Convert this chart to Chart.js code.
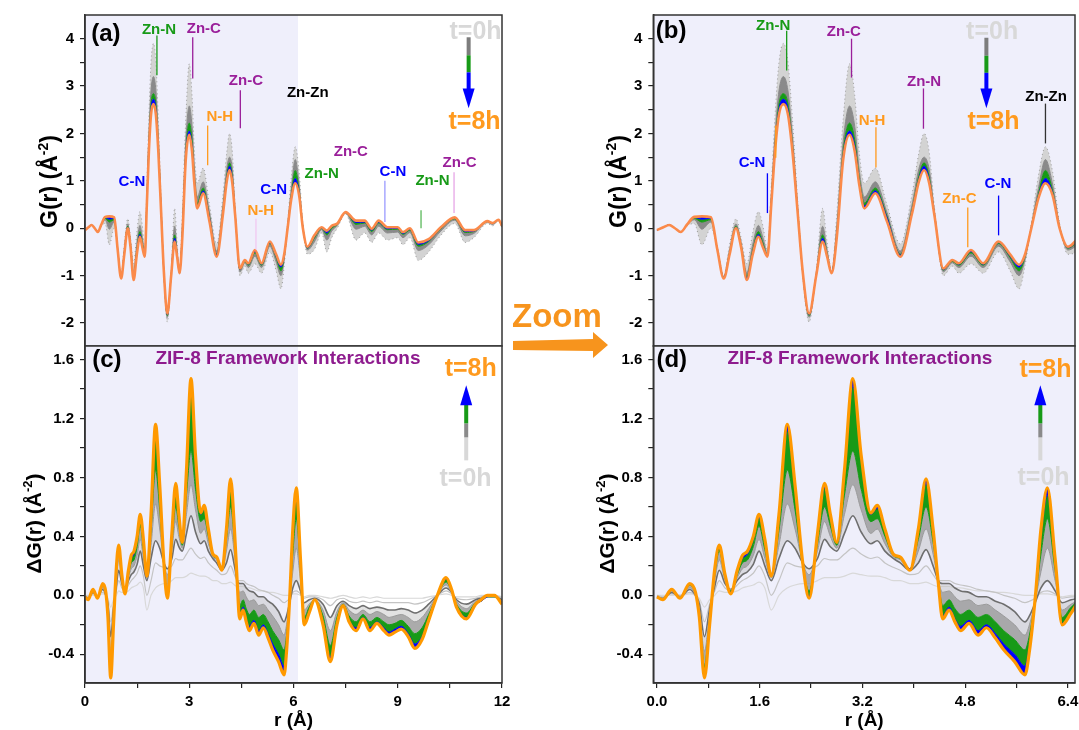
<!DOCTYPE html>
<html>
<head>
<meta charset="utf-8">
<script src="https://cdn.jsdelivr.net/npm/chart.js"></script>
<style>
body{margin:0;background:#fff;width:1079px;height:730px;position:relative;overflow:hidden}
canvas{position:absolute}
#zoomsvg{position:absolute;left:505px;top:280px;z-index:5}
</style>
</head>
<body>
<canvas id="ca" width="520" height="362" style="left:0;top:0"></canvas>
<canvas id="cc" width="520" height="400" style="left:0;top:330px"></canvas>
<canvas id="cb" width="540" height="362" style="left:560px;top:0"></canvas>
<canvas id="cd" width="540" height="400" style="left:560px;top:330px"></canvas>
<svg id="zoomsvg" width="115" height="85">
  <text x="7" y="47" font-family="Liberation Sans, Arial, sans-serif" font-weight="bold" font-size="33" fill="#f7941d">Zoom</text>
  <polygon points="8,61 88,59 88,52 103,65 88,78 88,71 8,70" fill="#f7941d"/>
</svg>
<script>
// ---- G(r) data (a)/(b) ----
const rG = [0,0.1,0.19,0.28,0.37,0.47,0.58,0.7,0.84,0.94,
  1.04,1.13,1.23,1.31,1.4,1.49,1.58,1.65,1.72,1.78,
  1.84,1.9,1.97,2.04,2.11,2.19,2.27,2.37,2.48,2.58,
  2.65,2.72,2.8,2.9,3.0,3.08,3.15,3.23,3.4,3.58,
  3.79,3.97,4.08,4.16,4.24,4.32,4.46,4.6,4.7,4.89,
  5.08,5.32,5.5,5.64,5.73,5.83,5.94,6.05,6.16,6.27,
  6.4,6.6,6.81,6.96,7.1,7.26,7.5,7.8,8.05,8.25,
  8.45,8.7,9.0,9.15,9.35,9.59,9.89,10.24,10.64,10.94,
  11.19,11.58,11.73,11.9,12.0];
// t = 8h (orange)
const G_t8 = [-0.04,0.02,0.07,0.0,-0.08,0.08,0.24,0.25,0.23,-0.45,
  -1.06,-0.56,0.0,-0.4,-1.09,-0.56,-0.18,-0.4,-0.6,0.5,
  1.65,2.4,2.62,2.4,1.62,0.35,-0.92,-1.8,-1.0,-0.28,
  -0.6,-0.95,-0.2,1.45,1.97,1.62,0.92,0.42,0.74,0.15,
  -0.6,0.3,0.99,1.23,0.95,0.28,-0.85,-0.67,-0.74,-0.46,
  -0.74,-0.28,-0.55,-0.77,-0.56,0.0,0.63,0.95,0.7,0.0,
  -0.39,-0.15,0.02,-0.05,0.05,0.1,0.34,0.16,0.16,-0.01,
  0.16,0.02,0.02,-0.08,0.0,-0.3,-0.23,0.02,0.23,-0.04,
  -0.04,0.15,0.11,0.18,0.05];
// late times (blue)
const G_t7 = [-0.04,0.02,0.07,0.0,-0.08,0.08,0.23,0.19,0.21,-0.45,
  -1.05,-0.54,0.02,-0.38,-1.06,-0.51,-0.13,-0.36,-0.59,0.54,
  1.73,2.51,2.72,2.51,1.69,0.38,-0.93,-1.82,-0.99,-0.21,
  -0.57,-0.94,-0.15,1.54,2.05,1.74,0.99,0.47,0.79,0.23,
  -0.57,0.34,1.05,1.31,1.02,0.3,-0.87,-0.68,-0.76,-0.49,
  -0.76,-0.3,-0.59,-0.82,-0.58,0.01,0.68,1.05,0.75,0.01,
  -0.41,-0.18,0.01,-0.1,0.03,0.09,0.34,0.12,0.13,-0.04,
  0.13,-0.01,0.0,-0.11,-0.02,-0.34,-0.26,0.0,0.22,-0.07,
  -0.06,0.15,0.1,0.18,0.05];
// middle times (green)
const G_t5 = [-0.04,0.02,0.07,0.0,-0.08,0.07,0.21,0.13,0.18,-0.44,
  -1.05,-0.52,0.04,-0.36,-1.02,-0.47,-0.07,-0.31,-0.57,0.58,
  1.8,2.62,2.84,2.62,1.76,0.4,-0.94,-1.84,-0.98,-0.14,
  -0.54,-0.94,-0.1,1.62,2.22,1.86,1.06,0.53,0.85,0.26,
  -0.55,0.38,1.11,1.38,1.08,0.31,-0.88,-0.7,-0.78,-0.52,
  -0.78,-0.32,-0.62,-0.9,-0.61,0.02,0.72,1.22,0.8,0.02,
  -0.42,-0.21,0.0,-0.14,0.0,0.08,0.33,0.08,0.11,-0.07,
  0.11,-0.03,-0.02,-0.13,-0.04,-0.38,-0.28,-0.01,0.2,-0.09,
  -0.07,0.14,0.1,0.17,0.04];
// early times (dark grey)
const G_t2 = [-0.04,0.02,0.07,0.0,-0.08,0.07,0.18,-0.02,0.13,-0.43,
  -1.03,-0.47,0.09,-0.31,-0.94,-0.35,0.06,-0.2,-0.53,0.68,
  1.99,2.9,3.2,2.9,1.93,0.46,-0.96,-1.88,-0.96,0.04,
  -0.47,-0.93,0.03,1.83,2.58,2.15,1.23,0.66,0.98,0.34,
  -0.48,0.48,1.26,1.5,1.24,0.36,-0.92,-0.73,-0.83,-0.59,
  -0.83,-0.38,-0.71,-1.0,-0.67,0.05,0.84,1.45,0.93,0.05,
  -0.46,-0.29,-0.03,-0.25,-0.06,0.06,0.32,-0.02,0.04,-0.14,
  0.04,-0.1,-0.08,-0.2,-0.09,-0.47,-0.35,-0.06,0.17,-0.16,
  -0.11,0.13,0.08,0.17,0.03];
// t = 0h (light grey edge)
const G_t0 = [-0.04,0.02,0.07,0.0,-0.08,0.05,0.1,-0.35,0.0,-0.4,
  -1.0,-0.35,0.2,-0.2,-0.75,-0.1,0.35,0.05,-0.45,0.9,
  2.4,3.5,3.9,3.5,2.3,0.6,-1.0,-1.98,-0.9,0.42,
  -0.3,-0.9,0.3,2.3,3.47,2.8,1.6,0.95,1.27,0.5,
  -0.33,0.7,1.6,2.0,1.6,0.45,-1.0,-0.8,-0.95,-0.75,
  -0.95,-0.5,-0.9,-1.28,-0.8,0.1,1.1,1.72,1.2,0.1,
  -0.55,-0.45,-0.1,-0.5,-0.2,0.0,0.3,-0.25,-0.1,-0.3,
  -0.1,-0.25,-0.2,-0.35,-0.2,-0.68,-0.5,-0.15,0.1,-0.3,
  -0.2,0.1,0.05,0.15,0.0];

// ---- dG(r) data (c)/(d) ----
const rD = [0,0.09,0.23,0.36,0.51,0.6,0.66,0.74,0.82,0.9,
  0.97,1.06,1.15,1.25,1.33,1.41,1.5,1.59,1.68,1.78,
  1.9,2.03,2.15,2.27,2.37,2.5,2.61,2.7,2.8,2.92,
  3.05,3.18,3.33,3.43,3.55,3.68,3.79,3.94,4.07,4.19,
  4.3,4.38,4.45,4.55,4.64,4.73,4.86,5.0,5.13,5.27,
  5.4,5.57,5.73,5.8,5.89,5.98,6.08,6.2,6.31,6.45,
  6.61,6.85,7.06,7.25,7.43,7.6,7.8,8.0,8.2,8.4,
  8.6,8.75,8.92,9.1,9.3,9.49,9.7,9.89,10.14,10.39,
  10.55,10.69,10.98,11.24,11.4,11.58,11.78,12.0];
const dG_t8 = [-0.01,-0.03,0.04,-0.02,0.08,0.02,-0.15,-0.56,-0.2,0.18,
  0.34,0.14,0.01,0.17,0.27,0.3,0.4,0.55,0.38,0.13,
  0.55,1.16,0.75,0.22,-0.02,0.42,0.76,0.55,0.36,0.85,
  1.47,0.95,0.56,0.61,0.45,0.28,0.26,0.17,0.45,0.79,
  0.45,0.09,-0.16,-0.1,-0.18,-0.24,-0.19,-0.27,-0.22,-0.29,
  -0.37,-0.45,-0.54,-0.38,-0.02,0.45,0.73,0.25,-0.2,-0.12,
  -0.03,-0.2,-0.45,-0.2,-0.07,-0.18,-0.24,-0.16,-0.24,-0.19,
  -0.24,-0.27,-0.25,-0.23,-0.28,-0.36,-0.3,-0.17,0.0,0.12,
  0.04,-0.08,-0.16,-0.06,-0.03,0.0,0.0,-0.06];
const dG_t7 = [-0.01,-0.03,0.04,-0.02,0.08,0.02,-0.14,-0.54,-0.19,0.17,
  0.33,0.14,0.02,0.16,0.25,0.28,0.38,0.53,0.36,0.14,
  0.52,1.12,0.72,0.22,-0.01,0.4,0.73,0.53,0.36,0.82,
  1.42,0.92,0.55,0.59,0.44,0.28,0.26,0.18,0.43,0.76,
  0.43,0.09,-0.14,-0.08,-0.16,-0.21,-0.17,-0.24,-0.2,-0.26,
  -0.33,-0.4,-0.48,-0.34,-0.02,0.4,0.68,0.23,-0.19,-0.11,
  -0.03,-0.18,-0.42,-0.19,-0.07,-0.17,-0.22,-0.15,-0.22,-0.18,
  -0.22,-0.25,-0.23,-0.21,-0.26,-0.33,-0.28,-0.16,0.0,0.11,
  0.04,-0.07,-0.15,-0.06,-0.04,-0.01,0.0,-0.06];
const dG_t6 = [-0.01,-0.03,0.04,-0.02,0.07,0.01,-0.12,-0.48,-0.16,0.14,
  0.3,0.12,0.03,0.14,0.22,0.24,0.33,0.47,0.31,0.13,
  0.44,0.85,0.58,0.2,0.03,0.35,0.6,0.47,0.34,0.68,
  0.98,0.72,0.5,0.52,0.4,0.27,0.25,0.18,0.38,0.6,
  0.36,0.1,-0.07,-0.03,-0.09,-0.13,-0.1,-0.15,-0.13,-0.18,
  -0.24,-0.3,-0.37,-0.27,-0.03,0.28,0.52,0.17,-0.15,-0.08,
  -0.03,-0.14,-0.34,-0.15,-0.06,-0.14,-0.18,-0.13,-0.18,-0.15,
  -0.18,-0.2,-0.19,-0.17,-0.21,-0.26,-0.22,-0.13,0.0,0.09,
  0.03,-0.06,-0.12,-0.05,-0.04,-0.01,-0.01,-0.05];
const dG_t4 = [-0.01,-0.02,0.03,-0.01,0.05,0.0,-0.09,-0.38,-0.12,0.1,
  0.24,0.1,0.04,0.12,0.18,0.2,0.27,0.38,0.25,0.12,
  0.34,0.62,0.45,0.22,0.14,0.3,0.5,0.4,0.32,0.55,
  0.75,0.58,0.42,0.45,0.35,0.26,0.24,0.17,0.3,0.45,
  0.28,0.1,0.02,0.03,-0.01,-0.04,-0.03,-0.07,-0.06,-0.1,
  -0.14,-0.2,-0.27,-0.2,-0.04,0.16,0.32,0.1,-0.1,-0.06,
  -0.03,-0.1,-0.24,-0.11,-0.05,-0.1,-0.13,-0.1,-0.13,-0.11,
  -0.13,-0.15,-0.14,-0.13,-0.15,-0.18,-0.15,-0.09,0.0,0.07,
  0.02,-0.04,-0.09,-0.04,-0.03,-0.01,-0.01,-0.04];
const dG_t3 = [-0.01,-0.02,0.02,-0.01,0.04,0.0,-0.06,-0.28,-0.09,0.06,
  0.17,0.08,0.04,0.1,0.14,0.16,0.21,0.3,0.2,0.1,
  0.25,0.37,0.32,0.22,0.18,0.25,0.38,0.33,0.3,0.42,
  0.54,0.43,0.35,0.37,0.3,0.25,0.22,0.17,0.22,0.31,
  0.2,0.1,0.08,0.08,0.05,0.03,0.02,-0.01,-0.01,-0.04,
  -0.06,-0.11,-0.18,-0.14,-0.05,0.05,0.1,0.03,-0.05,-0.03,
  -0.02,-0.06,-0.15,-0.07,-0.04,-0.07,-0.09,-0.07,-0.09,-0.08,
  -0.09,-0.1,-0.1,-0.09,-0.1,-0.12,-0.1,-0.06,0.0,0.05,
  0.02,-0.03,-0.06,-0.03,-0.02,-0.01,-0.01,-0.03];
const dG_t2 = [0,-0.01,0.01,0,0.02,0,-0.04,-0.18,-0.06,0.03,
  0.1,0.05,0.03,0.07,0.1,0.12,0.15,0.2,0.13,0.0,
  0.1,0.22,0.2,0.19,0.18,0.2,0.25,0.24,0.24,0.28,
  0.32,0.28,0.25,0.26,0.22,0.19,0.17,0.14,0.15,0.2,
  0.14,0.1,0.1,0.1,0.08,0.07,0.06,0.04,0.03,0.02,
  0.0,-0.02,-0.05,-0.04,-0.02,0.02,0.03,0.01,-0.02,-0.01,
  -0.01,-0.03,-0.07,-0.03,-0.02,-0.04,-0.05,-0.04,-0.05,-0.04,
  -0.05,-0.05,-0.05,-0.05,-0.05,-0.06,-0.05,-0.03,0.0,0.03,
  0.01,-0.02,-0.03,-0.02,-0.01,0.0,0.0,-0.02];
const dG_t1 = [0,0,0,0,0.01,0,-0.02,-0.08,-0.03,0,
  0.03,0.02,0.02,0.03,0.05,0.06,0.07,0.09,0.05,-0.1,
  0.0,0.05,0.07,0.08,0.08,0.1,0.12,0.12,0.12,0.13,
  0.15,0.14,0.13,0.13,0.12,0.1,0.1,0.08,0.08,0.09,
  0.07,0.06,0.06,0.06,0.05,0.05,0.04,0.03,0.03,0.02,
  0.02,0.01,0.0,0.0,0.0,0.01,0.01,0.0,-0.01,0.0,
  0,-0.01,-0.02,-0.01,0,-0.01,-0.02,-0.01,-0.02,-0.01,
  -0.02,-0.02,-0.02,-0.02,-0.02,-0.02,-0.02,-0.01,0,0.01,
  0,-0.01,-0.01,-0.01,0,0,0,-0.01];

// ---- tick labels ----
const gTicks = [-2,-1.5,-1,-0.5,0,0.5,1,1.5,2,2.5,3,3.5,4];
const dTicks = [-0.4,-0.2,0,0.2,0.4,0.6,0.8,1.0,1.2,1.4,1.6];
const xTicksFull = [0,1.5,3,4.5,6,7.5,9,10.5,12];
const xTicksZoom = [0,0.8,1.6,2.4,3.2,4.0,4.8,5.6,6.4];

const FAM = '"Liberation Sans", Arial, Helvetica, sans-serif';
const LAV = '#efeffb';
const GREEN = '#179a17', BLUE = '#0000ff', PURPLE = '#9a1f9a', ORANGE = '#ff9a1e', LGRAY = '#d8d8d8';
Chart.defaults.font.family = FAM;

function yTitle(ctx, cx, cy, pre, size) {
  ctx.save();
  ctx.translate(cx, cy);
  ctx.rotate(-Math.PI / 2);
  const f1 = 'bold ' + size + 'px ' + FAM, f2 = 'bold ' + Math.round(size * 0.62) + 'px ' + FAM;
  ctx.font = f1;
  const w1 = ctx.measureText(pre + ' (Å').width, w3 = ctx.measureText(')').width;
  ctx.font = f2;
  const w2 = ctx.measureText('-2').width;
  let x = -(w1 + w2 + w3) / 2;
  const base = size * 0.36;
  ctx.fillStyle = '#000'; ctx.textAlign = 'left'; ctx.textBaseline = 'alphabetic';
  ctx.font = f1; ctx.fillText(pre + ' (Å', x, base); x += w1;
  ctx.font = f2; ctx.fillText('-2', x, base - size * 0.42); x += w2;
  ctx.font = f1; ctx.fillText(')', x, base);
  ctx.restore();
}

const panelPlugin = {
  id: 'panel',
  beforeDraw(chart, args, o) {
    const {ctx, chartArea: a, scales: {x}} = chart;
    ctx.save();
    ctx.fillStyle = '#fff';
    ctx.fillRect(a.left, a.top, a.width, a.height);
    const xe = o.shadeTo == null ? a.right : x.getPixelForValue(o.shadeTo);
    ctx.fillStyle = LAV;
    ctx.fillRect(a.left, a.top, xe - a.left, a.height);
    ctx.restore();
  },
  afterDraw(chart, args, o) {
    const {ctx, chartArea: a, scales: {x, y}} = chart;
    const px = v => x.getPixelForValue(v), py = v => y.getPixelForValue(v);
    ctx.save();
    ctx.strokeStyle = '#333'; ctx.lineWidth = 1.5;
    ctx.strokeRect(a.left, a.top, a.width, a.height);
    ctx.textAlign = 'center'; ctx.textBaseline = 'middle';
    (o.anns || []).forEach(n => {
      if (n.l) {
        ctx.strokeStyle = n.lc || n.c; ctx.lineWidth = 1.3;
        ctx.beginPath(); ctx.moveTo(px(n.l[0]), py(n.l[1])); ctx.lineTo(px(n.l[0]), py(n.l[2])); ctx.stroke();
      }
      if (n.t) {
        ctx.fillStyle = n.c; ctx.font = 'bold ' + (n.s || 15) + 'px ' + FAM;
        ctx.fillText(n.t, px(n.x), py(n.y));
      }
    });
    if (o.arrow) {
      const ar = o.arrow, ax = px(ar.x);
      ar.segs.forEach(s => {
        const a1 = py(s[0]), a2 = py(s[1]);
        ctx.fillStyle = s[2];
        ctx.fillRect(ax - 2, Math.min(a1, a2), 4, Math.abs(a2 - a1));
      });
      const hb = py(ar.head[0]), ht = py(ar.head[1]);
      ctx.fillStyle = ar.head[2];
      ctx.beginPath(); ctx.moveTo(ax - 6, hb); ctx.lineTo(ax + 6, hb); ctx.lineTo(ax, ht); ctx.closePath(); ctx.fill();
    }
    if (o.ytitle) yTitle(ctx, a.left - o.ytitle.dx, (a.top + a.bottom) / 2 + o.ytitle.dy, o.ytitle.text, o.ytitle.size);
    if (o.xtitle) {
      ctx.fillStyle = '#000'; ctx.font = 'bold 19px ' + FAM;
      ctx.fillText('r (Å)', (a.left + a.right) / 2, a.bottom + o.xtitle);
    }
    ctx.restore();
  }
};

const pts = (rs, ys) => rs.map((v, i) => ({x: v, y: ys[i]}));
function line(data, color, width, fill, fillColor, extra) {
  return Object.assign({data: data, borderColor: color, borderWidth: width,
    fill: fill || false, backgroundColor: fillColor || 'rgba(0,0,0,0)',
    pointRadius: 0, cubicInterpolationMode: 'monotone'}, extra || {});
}
function gSets() {
  return [
    line(pts(rG, G_t8), '#fb8a4a', 2.6),
    line(pts(rG, G_t7), BLUE, 1, '-1', BLUE),
    line(pts(rG, G_t5), GREEN, 1, '-1', GREEN),
    line(pts(rG, G_t2), '#8a8a8a', 1, '-1', '#8a8a8a'),
    line(pts(rG, G_t0), '#9c9c9c', 1, '-1', '#d3d3d3', {borderDash: [1, 3]})
  ];
}
function dSets() {
  return [
    line(pts(rD, dG_t8), '#ff9900', 3.2),
    line(pts(rD, dG_t7), BLUE, 1, '-1', BLUE),
    line(pts(rD, dG_t6), GREEN, 1, '-1', GREEN),
    line(pts(rD, dG_t4), '#9a9a9a', 1, '-1', 'rgba(150,150,150,0.8)'),
    line(pts(rD, dG_t3), '#6e6e6e', 1.6, '-1', 'rgba(190,190,190,0.45)'),
    line(pts(rD, dG_t2), '#c4c4c4', 1.2),
    line(pts(rD, dG_t1), '#d8d8d8', 1.2)
  ];
}

const tickFont = {size: 15, weight: 'bold', family: FAM};
function yAxis(min, max, vals, isMajor, fmt, w) {
  return {
    type: 'linear', min: min, max: max,
    afterBuildTicks: ax => { ax.ticks = vals.map(v => ({value: v})); },
    afterFit: ax => { ax.width = w; },
    grid: {drawOnChartArea: false, drawTicks: true, tickLength: 5, color: '#222', lineWidth: 1.2},
    border: {display: true, color: '#333', width: 1.5},
    ticks: {autoSkip: false, padding: 6, color: '#000', font: tickFont,
      callback: v => isMajor(v) ? fmt(v) : ''}
  };
}
function xAxis(min, max, vals, isMajor, fmt, show) {
  if (!show) return {type: 'linear', min: min, max: max, display: false};
  return {
    type: 'linear', min: min, max: max,
    afterBuildTicks: ax => { ax.ticks = vals.map(v => ({value: v})); },
    afterFit: ax => { ax.height = 47; },
    grid: {drawOnChartArea: false, drawTicks: true, tickLength: 5, color: '#222', lineWidth: 1.2},
    border: {display: true, color: '#333', width: 1.5},
    ticks: {autoSkip: false, maxRotation: 0, padding: 5, color: '#000', font: tickFont,
      callback: v => isMajor(v) ? fmt(v) : ''}
  };
}
const near = (v, s) => Math.abs(v / s - Math.round(v / s)) < 1e-6;
const gY = w => yAxis(-2.485, 4.5, gTicks, v => near(v, 1), v => String(v), w);
const dY = w => yAxis(-0.595, 1.692, dTicks, v => near(v, 0.4), v => v.toFixed(1), w);

function make(id, datasets, x, y, pad, panel) {
  return new Chart(document.getElementById(id), {
    type: 'line',
    data: {datasets: datasets},
    options: {
      responsive: false, animation: false, devicePixelRatio: 1,
      layout: {padding: pad},
      plugins: {legend: {display: false}, tooltip: {enabled: false}, panel: panel},
      scales: {x: x, y: y}
    },
    plugins: [panelPlugin]
  });
}

// panel (a)
make('ca', gSets(), xAxis(0, 12, null, null, null, false), gY(85),
  {left: 0, top: 15, right: 18, bottom: 16},
  {shadeTo: 6.13, ytitle: {text: 'G(r)', dx: 36, dy: 1, size: 23},
   arrow: {x: 11.04, segs: [[4.03, 3.65, '#7d7d7d'], [3.65, 3.29, GREEN], [3.29, 2.93, BLUE]], head: [2.95, 2.53, BLUE]},
   anns: [
    {t: '(a)', c: '#000', x: 0.6, y: 4.09, s: 24},
    {t: 'Zn-N', c: GREEN, x: 2.13, y: 4.18, l: [2.07, 4.07, 3.23]},
    {t: 'Zn-C', c: PURPLE, x: 3.42, y: 4.2, l: [3.1, 4.03, 3.16]},
    {t: 'Zn-C', c: PURPLE, x: 4.63, y: 3.1, l: [4.47, 2.91, 2.11]},
    {t: 'N-H', c: ORANGE, x: 3.88, y: 2.34, l: [3.53, 2.17, 1.33]},
    {t: 'Zn-Zn', c: '#000', x: 6.41, y: 2.85},
    {t: 'C-N', c: BLUE, x: 1.35, y: 0.97},
    {t: 'C-N', c: BLUE, x: 5.43, y: 0.82},
    {t: 'N-H', c: ORANGE, x: 5.06, y: 0.36, l: [4.92, 0.2, -0.45], lc: '#f0c8f0'},
    {t: 'Zn-N', c: GREEN, x: 6.81, y: 1.14},
    {t: 'Zn-C', c: PURPLE, x: 7.65, y: 1.62},
    {t: 'C-N', c: BLUE, x: 8.86, y: 1.18, l: [8.63, 1.0, 0.13], lc: '#9a9aff'},
    {t: 'Zn-N', c: GREEN, x: 10.0, y: 0.99, l: [9.67, 0.38, 0.0], lc: '#5bb85b'},
    {t: 'Zn-C', c: PURPLE, x: 10.78, y: 1.39, l: [10.62, 1.18, 0.32], lc: '#e6a6e6'},
    {t: 't=0h', c: LGRAY, x: 11.24, y: 4.14, s: 25},
    {t: 't=8h', c: ORANGE, x: 11.21, y: 2.24, s: 25}
   ]});

// panel (b)
make('cb', gSets(), xAxis(-0.057, 6.51, null, null, null, false), gY(93.3),
  {left: 0, top: 14, right: 25, bottom: 16},
  {ytitle: {text: 'G(r)', dx: 36, dy: 1, size: 23},
   arrow: {x: 5.13, segs: [[4.02, 3.64, '#7d7d7d'], [3.64, 3.28, GREEN], [3.28, 2.93, BLUE]], head: [2.95, 2.53, BLUE]},
   anns: [
    {t: '(b)', c: '#000', x: 0.22, y: 4.15, s: 24},
    {t: 'Zn-N', c: GREEN, x: 1.81, y: 4.27, l: [2.02, 4.17, 3.33]},
    {t: 'Zn-C', c: PURPLE, x: 2.91, y: 4.15, l: [3.03, 4.0, 3.18]},
    {t: 'N-H', c: ORANGE, x: 3.35, y: 2.27, l: [3.41, 2.13, 1.28]},
    {t: 'Zn-N', c: PURPLE, x: 4.16, y: 3.09, l: [4.15, 2.95, 2.1]},
    {t: 'Zn-Zn', c: '#000', x: 6.06, y: 2.78, l: [6.05, 2.63, 1.79], lc: '#333'},
    {t: 'C-N', c: BLUE, x: 1.48, y: 1.39, l: [1.72, 1.16, 0.32]},
    {l: [1.85, 2.17, 1.49], c: ORANGE},
    {t: 'Zn-C', c: ORANGE, x: 4.71, y: 0.61, l: [4.84, 0.44, -0.4]},
    {t: 'C-N', c: BLUE, x: 5.31, y: 0.93, l: [5.32, 0.69, -0.15]},
    {t: 't=0h', c: LGRAY, x: 5.22, y: 4.13, s: 25},
    {t: 't=8h', c: ORANGE, x: 5.24, y: 2.25, s: 25}
   ]});

// panel (c)
make('cc', dSets(), xAxis(0, 12, xTicksFull, v => near(v, 3), v => String(v), true), dY(85),
  {left: 0, top: 16, right: 18, bottom: 0},
  {shadeTo: 6.13, xtitle: 38, ytitle: {text: 'ΔG(r)', dx: 52, dy: 9, size: 21},
   arrow: {x: 10.97, segs: [[0.916, 1.072, LGRAY], [1.072, 1.167, '#8a8a8a'], [1.167, 1.31, GREEN]], head: [1.29, 1.425, BLUE]},
   anns: [
    {t: '(c)', c: '#000', x: 0.63, y: 1.595, s: 24},
    {t: 'ZIF-8 Framework Interactions', c: '#8e1b8e', x: 5.84, y: 1.608, s: 19},
    {t: 't=8h', c: ORANGE, x: 11.1, y: 1.534, s: 25},
    {t: 't=0h', c: LGRAY, x: 10.95, y: 0.787, s: 25}
   ]});

// panel (d)
make('cd', dSets(), xAxis(-0.057, 6.51, xTicksZoom, v => near(v, 1.6), v => v.toFixed(1), true), dY(93.3),
  {left: 0, top: 16, right: 25, bottom: 0},
  {xtitle: 38, ytitle: {text: 'ΔG(r)', dx: 47, dy: 9, size: 21},
   arrow: {x: 5.97, segs: [[0.916, 1.072, LGRAY], [1.072, 1.167, '#8a8a8a'], [1.167, 1.31, GREEN]], head: [1.29, 1.425, BLUE]},
   anns: [
    {t: '(d)', c: '#000', x: 0.23, y: 1.595, s: 24},
    {t: 'ZIF-8 Framework Interactions', c: '#8e1b8e', x: 3.16, y: 1.608, s: 19},
    {t: 't=8h', c: ORANGE, x: 6.05, y: 1.527, s: 25},
    {t: 't=0h', c: LGRAY, x: 6.02, y: 0.794, s: 25}
   ]});
</script>
</body>
</html>
